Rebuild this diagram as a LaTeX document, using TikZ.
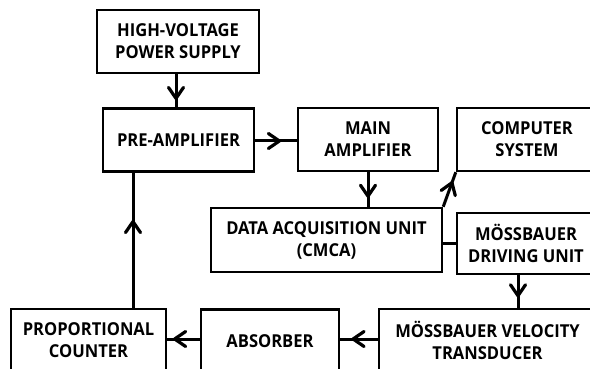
\documentclass[tikz,border=0pt]{standalone}
\usepackage{fontspec}
\setmainfont{Open Sans}[FakeStretch=0.93]
\usetikzlibrary{arrows.meta,decorations.markings}
\tikzset{
  box/.style={draw=black, line width=2.4pt, fill=white, align=center,
    font=\fontsize{17.8}{22}\selectfont\bfseries, inner sep=0pt},
  conn/.style={line width=3pt},
  midarrow/.style={postaction={decorate}, decoration={markings,
    mark=at position #1 with {\arrow{Straight Barb[length=11pt,width=15pt,line width=3.2pt,round]}}}},
}
\begin{document}
\begin{tikzpicture}[x=1pt,y=-1pt]
\clip (0,0) rectangle (590,369);
\fill[white] (0,0) rectangle (590,369);
\node[box, minimum width=162pt, minimum height=63pt] (hv) at (178,41.5) {HIGH-VOLTAGE\\POWER SUPPLY};
\node[box, minimum width=151pt, minimum height=63pt] (pre) at (178.5,140) {PRE-AMPLIFIER};
\node[box, minimum width=140pt, minimum height=63pt] (main) at (368,139.5) {MAIN\\AMPLIFIER};
\node[box, minimum width=140pt, minimum height=63pt] (comp) at (527,139.5) {COMPUTER\\SYSTEM};
\node[box, minimum width=231pt, minimum height=64pt] (daq) at (326.5,240) {DATA ACQUISITION UNIT\\(CMCA)};
\node[box, minimum width=138pt, minimum height=61pt] (mdu) at (526,243.5) {MÖSSBAUER\\DRIVING UNIT};
\node[box, minimum width=155pt, minimum height=63pt] (pc) at (88.5,340.5) {PROPORTIONAL\\COUNTER};
\node[box, minimum width=138pt, minimum height=63pt] (abs) at (270,341) {ABSORBER};
\node[box, minimum width=217pt, minimum height=63pt] (mvt) at (487.5,340.5) {MÖSSBAUER VELOCITY\\TRANSDUCER};
\coordinate (hvs) at (hv.south -| 176,0);
\coordinate (pren) at (pre.north -| 176,0);
\draw[conn, midarrow=0.78] (hvs) -- (pren);
\coordinate (pree) at (pre.east |- 0,141);
\coordinate (mainw) at (main.west |- 0,141);
\draw[conn, midarrow=0.62] (pree) -- (mainw);
\coordinate (pcn) at (pc.north -| 133,0);
\coordinate (pres) at (pre.south -| 133,0);
\draw[conn, midarrow=0.65] (pcn) -- (pres);
\draw[conn, midarrow=0.74] (main.south) -- (daq.north -| main.south);
\draw[conn, midarrow=0.74] (daq.north east) -- (comp.south west);
\coordinate (daqe) at (daq.east |- 0,243);
\coordinate (mduw) at (mdu.west |- 0,243);
\draw[conn] (daqe) -- (mduw);
\coordinate (mdus) at (mdu.south -| 518,0);
\coordinate (mvtn) at (mvt.north -| 518,0);
\draw[conn, midarrow=0.68] (mdus) -- (mvtn);
\coordinate (mvtw) at (mvt.west |- 0,339);
\coordinate (abse) at (abs.east |- 0,339);
\draw[conn, midarrow=0.70] (mvtw) -- (abse);
\coordinate (absw) at (abs.west |- 0,339);
\coordinate (pce) at (pc.east |- 0,339);
\draw[conn, midarrow=0.82] (absw) -- (pce);
\end{tikzpicture}
\end{document}
